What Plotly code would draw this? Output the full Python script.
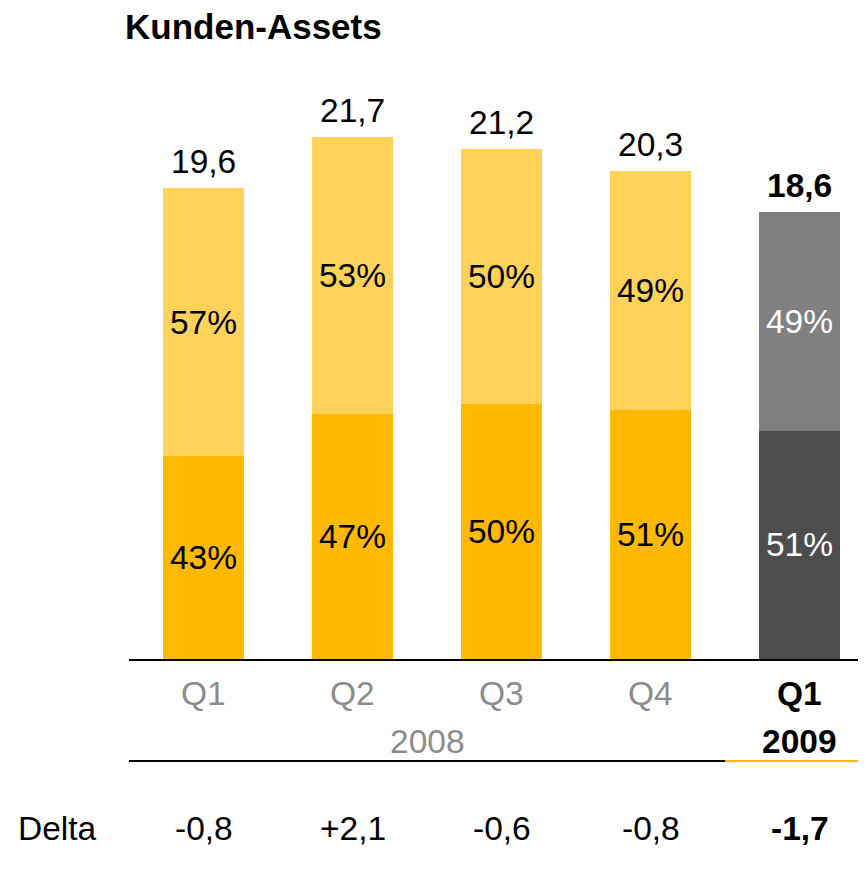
import plotly.graph_objects as go

# ---- data ----
quarters = ["Q1", "Q2", "Q3", "Q4", "Q1"]
years = ["2008", "2009"]
totals = [19.6, 21.7, 21.2, 20.3, 18.6]
lower_pct = [43, 47, 50, 51, 51]
upper_pct = [57, 53, 50, 49, 49]
deltas = ["-0,8", "+2,1", "-0,6", "-0,8", "-1,7"]
total_labels = ["19,6", "21,7", "21,2", "20,3", "18,6"]

# ---- style ----
FONT = "Liberation Sans, Arial, Helvetica, sans-serif"
FS = 33.5
TFS = 35
OFF = 8  # page body offset
W, H = 866 - OFF, 869 - 2 * OFF
ML, MR = 129 - OFF, 0
BASE = 659 - OFF
MT = 50 - OFF
MB = H - BASE
PW, PH = W - ML - MR, BASE - MT
CAT_PX = 149.0
PX_PER_UNIT = 24.04

lower_colors = ["#FFB900"] * 4 + ["#4D4D4D"]
upper_colors = ["#FFD35A"] * 4 + ["#808080"]
text_colors = ["#000000"] * 4 + ["#FFFFFF"]

xs = list(range(len(totals)))
lower_vals = [t * p / 100 for t, p in zip(totals, lower_pct)]
upper_vals = [t - l for t, l in zip(totals, lower_vals)]

fig = go.Figure()
fig.add_trace(go.Bar(
    x=xs, y=lower_vals, width=0.55,
    marker=dict(color=lower_colors, line=dict(width=0)),
    text=[f"{p}%" for p in lower_pct], textposition="inside",
    insidetextanchor="middle", textangle=0,
    textfont=dict(family=FONT, size=FS, color=text_colors),
    hoverinfo="skip",
))
fig.add_trace(go.Bar(
    x=xs, y=upper_vals, width=0.55,
    marker=dict(color=upper_colors, line=dict(width=0)),
    text=[f"{p}%" for p in upper_pct], textposition="inside",
    insidetextanchor="middle", textangle=0,
    textfont=dict(family=FONT, size=FS, color=text_colors),
    hoverinfo="skip",
))

ann = []
# totals above bars
for i, (t, lab) in enumerate(zip(totals, total_labels)):
    bold = i == len(totals) - 1
    ann.append(dict(x=i, y=t, xref="x", yref="y", yanchor="bottom", yshift=6,
                    text=f"<b>{lab}</b>" if bold else lab, showarrow=False,
                    font=dict(family=FONT, size=FS, color="#000000")))

def py(pix):
    return -((pix - OFF) - BASE) / PH

# quarter labels
for i, q in enumerate(quarters):
    bold = i == len(quarters) - 1
    ann.append(dict(x=i, y=py(693), xref="x", yref="paper", yanchor="middle",
                    text=f"<b>{q}</b>" if bold else q, showarrow=False,
                    font=dict(family=FONT, size=FS, color="#000000" if bold else "#8C8C8C")))
# year labels
ann.append(dict(x=1.5, y=py(741), xref="x", yref="paper", yanchor="middle",
                text=years[0], showarrow=False,
                font=dict(family=FONT, size=FS, color="#8C8C8C")))
ann.append(dict(x=4, y=py(741), xref="x", yref="paper", yanchor="middle",
                text=f"<b>{years[1]}</b>", showarrow=False,
                font=dict(family=FONT, size=FS, color="#000000")))
# delta row
ann.append(dict(x=(57 - OFF - ML) / PW, y=py(828), xref="paper", yref="paper",
                xanchor="center", yanchor="middle", text="Delta", showarrow=False,
                font=dict(family=FONT, size=FS, color="#000000")))
for i, d in enumerate(deltas):
    bold = i == len(deltas) - 1
    ann.append(dict(x=i, y=py(828), xref="x", yref="paper", yanchor="middle",
                    text=f"<b>{d}</b>" if bold else d, showarrow=False,
                    font=dict(family=FONT, size=FS, color="#000000")))

shapes = [
    dict(type="line", xref="x", yref="paper", x0=-0.515, x1=3.5, y0=py(761), y1=py(761),
         line=dict(color="#000000", width=2)),
    dict(type="line", xref="x", yref="paper", x0=3.5, x1=-0.5 + PW / CAT_PX, y0=py(761), y1=py(761),
         line=dict(color="#FFB900", width=2)),
]

fig.update_layout(
    width=W, height=H,
    margin=dict(l=ML, r=MR, t=MT, b=MB),
    barmode="stack", showlegend=False,
    plot_bgcolor="white", paper_bgcolor="white",
    title=dict(text="<b>Kunden-Assets</b>", x=(125 - OFF) / W, xanchor="left", xref="container",
               y=1 - (27 - OFF) / H, yanchor="middle", yref="container",
               font=dict(family=FONT, size=TFS, color="#000000")),
    xaxis=dict(range=[-0.5, -0.5 + PW / CAT_PX], showticklabels=False, ticks="",
               showgrid=False, zeroline=False, showline=True, linecolor="#000000", linewidth=2),
    yaxis=dict(range=[0, PH / PX_PER_UNIT], visible=False, showgrid=False, zeroline=False),
    annotations=ann, shapes=shapes,
)

fig.write_html("out.html")
